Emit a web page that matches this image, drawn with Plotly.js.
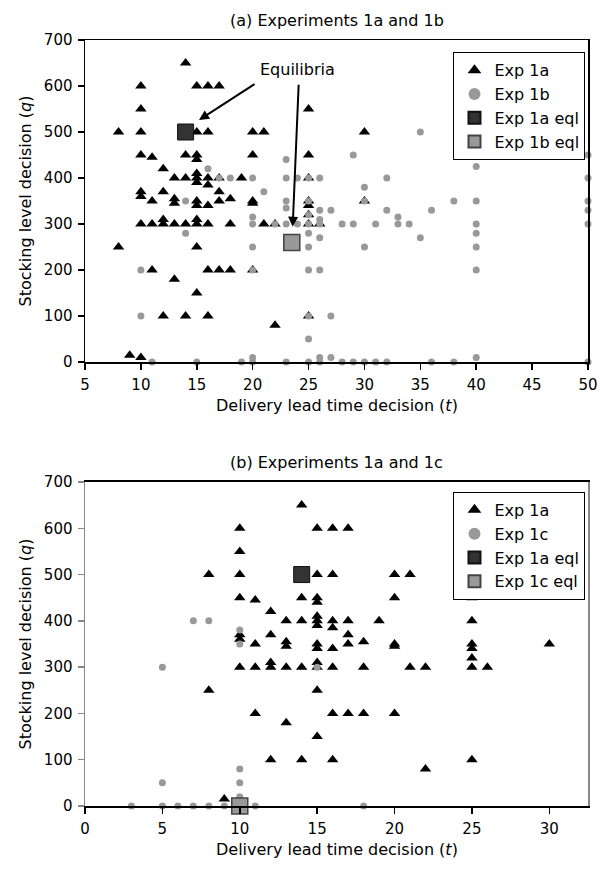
<!DOCTYPE html>
<html>
<head>
<meta charset="utf-8">
<script src="https://cdn.plot.ly/plotly-3.0.1.min.js"></script>
<style>html,body{margin:0;padding:0;background:#fff;}#chart{width:600px;height:874px;}</style>
</head>
<body>
<div id="chart"></div>
<script>
// Exp 1a (same data in both panels)
const exp1a_t = [8,8,9,10,10,10,10,10,10,10,10,11,11,11,11,12,12,12,12,12,13,13,13,13,13,14,14,14,14,14,
  15,15,15,15,15,15,15,15,15,15,15,15,15,16,16,16,16,16,16,16,16,17,17,17,17,17,18,18,18,19,
  20,20,20,20,20,21,21,22,22,25,25,25,25,25,25,25,25,26,30,30];
const exp1a_q = [500,250,15,10,600,550,500,450,370,360,300,445,350,300,200,420,370,310,300,100,400,355,345,300,180,650,450,400,300,100,
  600,500,450,440,410,400,390,350,340,310,300,250,150,600,500,400,385,340,300,200,100,600,400,370,350,200,355,300,200,400,
  500,450,350,345,200,500,300,300,80,550,450,400,350,340,320,300,100,300,500,350];

// Exp 1b
const exp1b_t = [10,10,11,14,14,15,16,17,18,19,20,20,20,20,20,20,20,21,22,23,23,23,23,23,23,24,24,
  25,25,25,25,25,25,25,25,25,25,26,26,26,26,26,26,26,26,27,27,27,28,28,29,29,29,30,30,30,30,31,31,
  32,32,32,33,33,34,35,35,36,36,38,38,40,40,40,40,40,40,40,50,50,50,50,50,50];
const exp1b_q = [200,100,0,350,280,0,420,400,400,0,400,315,300,250,200,10,0,370,300,440,400,350,335,300,0,400,300,
  400,350,320,300,280,250,200,100,50,0,400,330,310,300,270,200,10,0,330,100,10,300,0,450,300,0,380,350,250,0,300,0,
  400,330,0,315,300,300,500,270,330,0,350,0,425,350,300,280,250,200,10,450,400,350,330,300,0];

// Exp 1c
const exp1c_t = [3,5,5,5,6,7,7,8,8,9,10,10,10,10,10,10,11,15,18];
const exp1c_q = [0,300,50,0,0,400,0,400,0,0,380,350,80,50,20,0,0,300,0];

// Equilibria
const eq1a_t = [14], eq1a_q = [500];
const eq1b_t = [23.5], eq1b_q = [260];
const eq1c_t = [10], eq1c_q = [0];

const FONT = 'DejaVu Sans, Liberation Sans, sans-serif';
const tri = {symbol:'triangle-up', size:10, color:'#000'};
const dot = {symbol:'circle', size:7, color:'#999'};
const sq1 = {symbol:'square', size:16, color:'#333', line:{color:'#111', width:1}};
const sq2 = {symbol:'square', size:16, color:'#999', line:{color:'#444', width:1.5}};

const traces = [
  {x:exp1a_t, y:exp1a_q, name:'Exp 1a', mode:'markers', type:'scatter', marker:tri, xaxis:'x', yaxis:'y', legend:'legend', cliponaxis:false},
  {x:exp1b_t, y:exp1b_q, name:'Exp 1b', mode:'markers', type:'scatter', marker:dot, xaxis:'x', yaxis:'y', legend:'legend', cliponaxis:false},
  {x:eq1a_t, y:eq1a_q, name:'Exp 1a eql', mode:'markers', type:'scatter', marker:sq1, xaxis:'x', yaxis:'y', legend:'legend', cliponaxis:false},
  {x:eq1b_t, y:eq1b_q, name:'Exp 1b eql', mode:'markers', type:'scatter', marker:sq2, xaxis:'x', yaxis:'y', legend:'legend', cliponaxis:false},

  {x:exp1a_t, y:exp1a_q, name:'Exp 1a', mode:'markers', type:'scatter', marker:tri, xaxis:'x2', yaxis:'y2', legend:'legend2', cliponaxis:false},
  {x:exp1c_t, y:exp1c_q, name:'Exp 1c', mode:'markers', type:'scatter', marker:dot, xaxis:'x2', yaxis:'y2', legend:'legend2', cliponaxis:false},
  {x:eq1a_t, y:eq1a_q, name:'Exp 1a eql', mode:'markers', type:'scatter', marker:sq1, xaxis:'x2', yaxis:'y2', legend:'legend2', cliponaxis:false},
  {x:eq1c_t, y:eq1c_q, name:'Exp 1c eql', mode:'markers', type:'scatter', marker:sq2, xaxis:'x2', yaxis:'y2', legend:'legend2', cliponaxis:false}
];

const axBase = {showgrid:false, zeroline:false, showline:true, linecolor:'#000', linewidth:1.5, mirror:true,
  ticks:'outside', ticklen:6, tickwidth:1.5, tickcolor:'#000', ticklabelstandoff:2,
  tickfont:{family:FONT, size:15, color:'#000'}};

const legBase = {bordercolor:'#000', borderwidth:1, bgcolor:'#fff', font:{family:FONT, size:16, color:'#000'},
  itemsizing:'constant', itemwidth:30, xanchor:'right', yanchor:'top', tracegroupgap:0};

const titleFont = {family:FONT, size:16, color:'#000'};

const layout = {
  width:600, height:874,
  margin:{l:85, r:12, t:40, b:68},
  paper_bgcolor:'#fff', plot_bgcolor:'#fff',
  font:{family:FONT, color:'#000'},
  xaxis:Object.assign({}, axBase, {domain:[0,1], anchor:'y', range:[5,50], dtick:5, tick0:5}),
  yaxis:Object.assign({}, axBase, {domain:[0.5796,1], anchor:'x', range:[0,700], dtick:100,
    title:{text:'Stocking level decision (<i>q</i>)', font:titleFont, standoff:8}}),
  xaxis2:Object.assign({}, axBase, {domain:[0,1], anchor:'y2', range:[0,32.5], dtick:5, tick0:0}),
  yaxis2:Object.assign({}, axBase, {domain:[0,0.423], anchor:'x2', range:[0,700], dtick:100, linecolor:'#888', tickcolor:'#888',
    title:{text:'Stocking level decision (<i>q</i>)', font:titleFont, standoff:8}}),
  legend:Object.assign({}, legBase, {x:0.995, y:0.984}),
  legend2:Object.assign({}, legBase, {x:0.995, y:0.41}),
  annotations:[
    {text:'(a) Experiments 1a and 1b', xref:'paper', yref:'paper', x:0.5, y:1.0, yanchor:'middle', yshift:20, showarrow:false, font:titleFont},
    {text:'(b) Experiments 1a and 1c', xref:'paper', yref:'paper', x:0.5, y:0.423, yanchor:'middle', yshift:19, showarrow:false, font:titleFont},
    {text:'Delivery lead time decision (<i>t</i>)', xref:'paper', yref:'paper', x:0.5, y:0.5796, yanchor:'middle', yshift:-43, showarrow:false, font:titleFont},
    {text:'Delivery lead time decision (<i>t</i>)', xref:'paper', yref:'paper', x:0.5, y:0, yanchor:'middle', yshift:-43, showarrow:false, font:titleFont},
    {text:'Equilibria', xref:'x', yref:'y', x:24, y:635, showarrow:false, font:titleFont},
    {text:'', xref:'x', yref:'y', x:15.2, y:526, axref:'x', ayref:'y', ax:20.3, ay:606, showarrow:true, arrowhead:2, arrowsize:1, arrowwidth:2, arrowcolor:'#000'},
    {text:'', xref:'x', yref:'y', x:23.58, y:294, axref:'x', ayref:'y', ax:24.12, ay:606, showarrow:true, arrowhead:2, arrowsize:1, arrowwidth:2, arrowcolor:'#000'}
  ]
};

Plotly.newPlot('chart', traces, layout, {displayModeBar:false, staticPlot:true});
</script>
</body>
</html>
